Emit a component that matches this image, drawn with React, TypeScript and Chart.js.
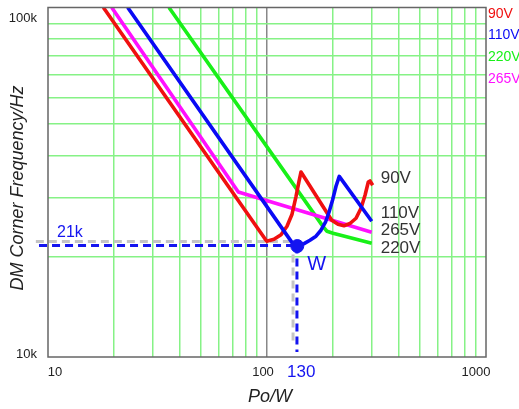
import React, { useEffect, useRef } from "react";
import { Chart, registerables } from "chart.js";
Chart.register(...registerables);

const yMax = 111500;
const xGridValues = [10, 20, 30, 40, 50, 60, 70, 80, 90, 100, 200, 300, 400, 500, 600, 700, 800, 900, 1000];
const yGridValues = [10000, 20000, 30000, 40000, 50000, 60000, 70000, 80000, 90000, 100000];
const xTickLabels = ["10", "100", "1000"];
const yTickLabels = ["10k", "100k"];
const seriesNames = ["90V", "110V", "220V", "265V"];
const seriesColors = ["#f01010", "#0a0af5", "#18f018", "#ff10ff"];

const red90X = [17.9, 99.7, 107.6, 115.9, 123.4, 130.1, 135.7, 140.0, 143.0, 197.5, 211.0, 224.7, 239.3, 255.0, 268.7, 280.3, 290.1, 295.3, 303.8];
const red90Y = [yMax, 22230, 22540, 23250, 24650, 26780, 30310, 33600, 35840, 25700, 24990, 24740, 25120, 26050, 27910, 30520, 33450, 33700, 32700];

const blue110X = [23.12, 132.1, 138.6, 147.6, 157.1, 167.4, 176.4, 184.9, 191.9, 199.1, 206.6, 213.8, 300.7];
const blue110Y = [yMax, 21710, 21410, 21860, 22390, 23010, 23980, 25340, 27150, 29490, 32480, 34780, 25510];

const green220X = [35.68, 180.7, 187.9, 200.2, 300.7];
const green220Y = [yMax, 24540, 23820, 23490, 21930];

const mag265X = [19.54, 73.95, 300.7];
const mag265Y = [yMax, 31220, 23660];

const wPointX = 137.5;
const wPointY = 21500;
const blueDashH = [[9.1, 21600], [137, 21600]];
const blueDashV = [[137, 21600], [137, 10350]];
const grayDashH = [[8.8, 22200], [131.5, 22200]];
const grayDashV = [[131.5, 22200], [131.5, 10860]];

const curveLabels = ["90V", "110V", "265V", "220V"];
const annoX = "130";
const annoY = "21k";
const annoW = "W";
const xTitle = "Po/W";
const yTitle = "DM Corner Frequency/Hz";

const zip = (xs: number[], ys: number[]) => xs.map((x, i) => ({ x, y: ys[i] }));
const pairs = (p: number[][]) => p.map(([x, y]) => ({ x, y }));

const FONT = "'Liberation Sans', Arial, sans-serif";
const GRID_GREEN = "#86f286";

export default function App() {
  const ref = useRef<HTMLCanvasElement | null>(null);
  useEffect(() => {
    if (!ref.current) return;
    const overlay = {
      id: "overlay",
      afterDraw(chart: any) {
        const { ctx, chartArea } = chart;
        const xs = chart.scales.x;
        const ys = chart.scales.y;
        ctx.save();
        ctx.strokeStyle = "#666";
        ctx.lineWidth = 1.5;
        ctx.strokeRect(chartArea.left, chartArea.top, chartArea.right - chartArea.left, chartArea.bottom - chartArea.top);
        ctx.fillStyle = "#222";
        ctx.font = `13px ${FONT}`;
        ctx.textBaseline = "middle";
        ctx.textAlign = "center";
        const xOff = [7, -4, -10];
        [10, 100, 1000].forEach((v, i) => {
          ctx.fillText(xTickLabels[i], xs.getPixelForValue(v) + xOff[i], chartArea.bottom + 15);
        });
        ctx.textAlign = "right";
        ctx.fillText(yTickLabels[0], chartArea.left - 11, ys.getPixelForValue(10000) - 3);
        ctx.fillText(yTickLabels[1], chartArea.left - 11, ys.getPixelForValue(100000) - 5);
        ctx.fillStyle = "#222";
        ctx.font = `italic 18px ${FONT}`;
        ctx.textAlign = "center";
        ctx.fillText(xTitle, xs.getPixelForValue(100) + 3, chartArea.bottom + 40);
        ctx.save();
        ctx.translate(18, 188);
        ctx.rotate(-Math.PI / 2);
        ctx.fillText(yTitle, 0, 0);
        ctx.restore();
        ctx.font = `14px ${FONT}`;
        ctx.textAlign = "left";
        seriesNames.forEach((n, i) => {
          ctx.fillStyle = seriesColors[i];
          ctx.fillText(n, chartArea.right + 2, 14 + i * 21.6);
        });
        ctx.fillStyle = "#333";
        ctx.font = `17px ${FONT}`;
        const lx = xs.getPixelForValue(300.7) + 9;
        const ly = [178, 213, 230, 248];
        curveLabels.forEach((t, i) => ctx.fillText(t, lx, ly[i]));
        ctx.fillStyle = "#1414f0";
        ctx.font = `16px ${FONT}`;
        ctx.fillText(annoY, 57, ys.getPixelForValue(21600) - 13);
        ctx.font = `20px ${FONT}`;
        ctx.fillText(annoW, xs.getPixelForValue(wPointX) + 10, ys.getPixelForValue(wPointY) + 18);
        ctx.font = `17px ${FONT}`;
        ctx.textAlign = "center";
        ctx.fillText(annoX, xs.getPixelForValue(wPointX) + 4, chartArea.bottom + 15);
        ctx.restore();
      },
    };
    const lineDs = (data: any[], color: string, order: number) => ({
      data,
      borderColor: color,
      backgroundColor: color,
      borderWidth: 3.6,
      pointRadius: 0,
      tension: 0,
      fill: false,
      borderJoinStyle: "round" as any,
      order,
    });
    const dashDs = (data: any[], color: string, order: number) => ({
      data,
      borderColor: color,
      borderWidth: 3,
      borderDash: [8, 5],
      pointRadius: 0,
      fill: false,
      clip: false as any,
      order,
    });
    const chart = new Chart(ref.current, {
      type: "line",
      data: {
        datasets: [
          dashDs(pairs(grayDashH), "#c4c4c4", 8),
          dashDs(pairs(grayDashV), "#c4c4c4", 8),
          dashDs(pairs(blueDashH), "#1414f0", 7),
          dashDs(pairs(blueDashV), "#1414f0", 7),
          lineDs(zip(green220X, green220Y), seriesColors[2], 5),
          lineDs(zip(mag265X, mag265Y), seriesColors[3], 4),
          lineDs(zip(red90X, red90Y), seriesColors[0], 3),
          lineDs(zip(blue110X, blue110Y), seriesColors[1], 2),
          {
            data: [{ x: wPointX, y: wPointY }],
            borderColor: "#1414f0",
            backgroundColor: "#1414f0",
            pointRadius: 6.5,
            showLine: false,
            order: 1,
          } as any,
        ],
      },
      options: {
        responsive: false,
        animation: false,
        layout: { padding: { left: 48, right: 33, top: 7, bottom: 52 } },
        plugins: { legend: { display: false }, tooltip: { enabled: false } },
        scales: {
          x: {
            type: "logarithmic",
            min: 10,
            max: 1000,
            afterBuildTicks: (s: any) => {
              s.ticks = xGridValues.map((v) => ({ value: v }));
            },
            ticks: { display: false },
            border: { display: false },
            grid: {
              drawTicks: false,
              lineWidth: 1.5,
              color: (c: any) => {
                const v = c.tick && c.tick.value;
                if (v === 10 || v === 1000) return "rgba(0,0,0,0)";
                if (v === 100) return "#888";
                return GRID_GREEN;
              },
            },
          },
          y: {
            type: "logarithmic",
            min: 10000,
            max: yMax,
            afterBuildTicks: (s: any) => {
              s.ticks = yGridValues.map((v) => ({ value: v }));
            },
            ticks: { display: false },
            border: { display: false },
            grid: {
              drawTicks: false,
              lineWidth: 1.5,
              color: (c: any) => {
                const v = c.tick && c.tick.value;
                if (v === 10000) return "rgba(0,0,0,0)";
                return GRID_GREEN;
              },
            },
          },
        },
      },
      plugins: [overlay],
    });
    return () => chart.destroy();
  }, []);
  return (
    <div style={{ position: "absolute", left: 0, top: 0, width: 519, height: 409, background: "#fff" }}>
      <canvas ref={ref} width={519} height={409} style={{ width: 519, height: 409 }} />
    </div>
  );
}
